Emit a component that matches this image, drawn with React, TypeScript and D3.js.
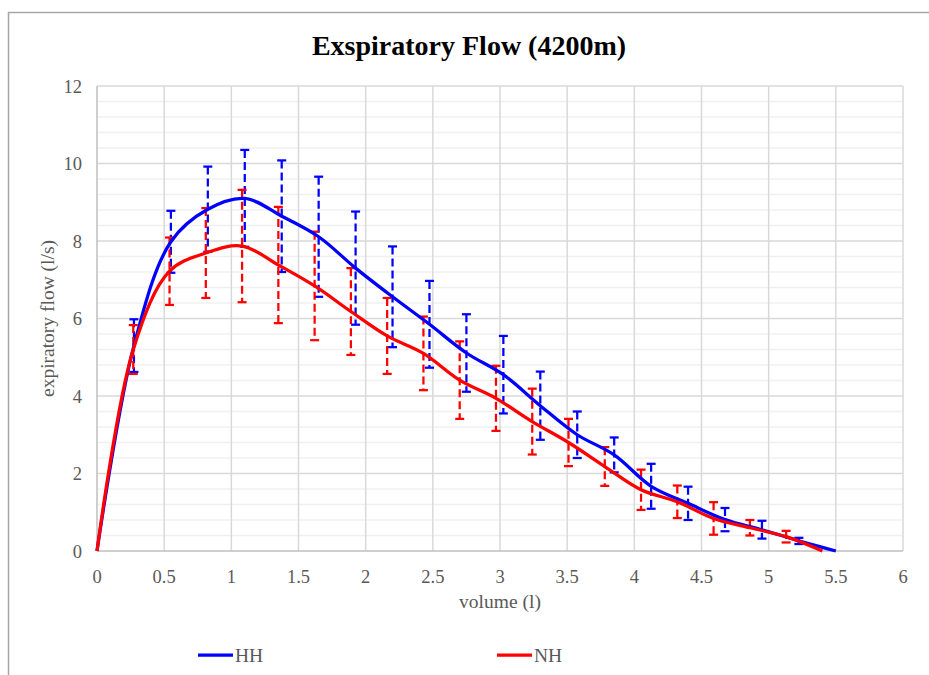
import React, { useEffect, useRef } from 'react';
import * as d3 from 'd3';

// HH series (blue), x step 0.275 l
const hhVolume = [0, 0.275, 0.55, 0.825, 1.1, 1.375, 1.65, 1.925, 2.2, 2.475, 2.75, 3.025, 3.3, 3.575, 3.85, 4.125, 4.4, 4.675, 4.95, 5.225, 5.5];
const hhFlow = [0, 5.3, 7.98, 8.82, 9.1, 8.64, 8.11, 7.3, 6.56, 5.85, 5.11, 4.55, 3.75, 3.0, 2.48, 1.67, 1.23, 0.81, 0.55, 0.26, 0];
const hhErr = [0, 0.68, 0.8, 1.1, 1.25, 1.44, 1.55, 1.46, 1.3, 1.12, 1.0, 1.0, 0.88, 0.6, 0.45, 0.58, 0.43, 0.3, 0.23, 0.08, 0];

// NH series (red), x step 0.27 l
const nhVolume = [0, 0.27, 0.54, 0.81, 1.08, 1.35, 1.62, 1.89, 2.16, 2.43, 2.7, 2.97, 3.24, 3.51, 3.78, 4.05, 4.32, 4.59, 4.86, 5.13, 5.4];
const nhFlow = [0, 5.2, 7.22, 7.69, 7.87, 7.38, 6.84, 6.18, 5.55, 5.1, 4.41, 3.94, 3.34, 2.8, 2.18, 1.58, 1.27, 0.84, 0.6, 0.37, 0];
const nhErr = [0, 0.63, 0.87, 1.16, 1.45, 1.5, 1.4, 1.12, 0.98, 0.95, 1.0, 0.84, 0.85, 0.61, 0.5, 0.52, 0.42, 0.42, 0.2, 0.15, 0];

const xTicks = [0, 0.5, 1, 1.5, 2, 2.5, 3, 3.5, 4, 4.5, 5, 5.5, 6];
const yTicks = [0, 2, 4, 6, 8, 10, 12];

const seriesNames = ['HH', 'NH'];
const seriesColors = ['#0000ff', '#ff0000'];

const FONT = '"Liberation Serif", "Times New Roman", serif';

const App = () => {
  const svgRef = useRef<SVGSVGElement>(null);
  const width = 929;
  const height = 675;
  const margin = { top: 86, right: 26, bottom: 124, left: 97 };

  useEffect(() => {
    const svg = d3.select(svgRef.current);
    svg.selectAll('*').remove();
    svg.attr('width', width).attr('height', height);

    const x = d3.scaleLinear().domain([0, 6]).range([margin.left, width - margin.right]);
    const y = d3.scaleLinear().domain([0, 12]).range([height - margin.bottom, margin.top]);

    // outer chart frame (only top/left visible)
    svg.append('path')
      .attr('d', `M8.5,${height} L8.5,12.5 L${width},12.5`)
      .attr('fill', 'none')
      .attr('stroke', '#a6a6a6')
      .attr('stroke-width', 1.5);

    // minor horizontal gridlines
    svg.append('g')
      .selectAll('line')
      .data(d3.range(0, 12.01, 0.4).filter(v => Math.abs(v / 2 - Math.round(v / 2)) > 0.01))
      .enter().append('line')
      .attr('x1', x(0)).attr('x2', x(6))
      .attr('y1', d => y(d)).attr('y2', d => y(d))
      .attr('stroke', '#f0f0f0')
      .attr('stroke-width', 1.5);

    // major gridlines
    svg.append('g')
      .selectAll('line')
      .data(yTicks.slice(1))
      .enter().append('line')
      .attr('x1', x(0)).attr('x2', x(6))
      .attr('y1', d => y(d)).attr('y2', d => y(d))
      .attr('stroke', '#d9d9d9')
      .attr('stroke-width', 1.5);

    svg.append('g')
      .selectAll('line')
      .data(xTicks.slice(1))
      .enter().append('line')
      .attr('x1', d => x(d)).attr('x2', d => x(d))
      .attr('y1', y(0)).attr('y2', y(12))
      .attr('stroke', '#d9d9d9')
      .attr('stroke-width', 1.5);

    // axis lines
    svg.append('line')
      .attr('x1', x(0)).attr('x2', x(6))
      .attr('y1', y(0)).attr('y2', y(0))
      .attr('stroke', '#bfbfbf').attr('stroke-width', 1.5);
    svg.append('line')
      .attr('x1', x(0)).attr('x2', x(0))
      .attr('y1', y(0)).attr('y2', y(12))
      .attr('stroke', '#bfbfbf').attr('stroke-width', 1.5);

    // tick labels
    svg.append('g')
      .selectAll('text')
      .data(xTicks)
      .enter().append('text')
      .attr('x', d => x(d))
      .attr('y', y(0) + 32)
      .attr('text-anchor', 'middle')
      .style('font-family', FONT)
      .style('font-size', '18.5px')
      .attr('fill', '#595959')
      .text(d => String(d));

    svg.append('g')
      .selectAll('text')
      .data(yTicks)
      .enter().append('text')
      .attr('x', x(0) - 15)
      .attr('y', d => y(d) + 6.5)
      .attr('text-anchor', 'end')
      .style('font-family', FONT)
      .style('font-size', '18.5px')
      .attr('fill', '#595959')
      .text(d => String(d));

    // axis titles
    svg.append('text')
      .attr('x', (x(0) + x(6)) / 2)
      .attr('y', 608)
      .attr('text-anchor', 'middle')
      .style('font-family', FONT)
      .style('font-size', '19.5px')
      .attr('fill', '#595959')
      .text('volume (l)');

    svg.append('text')
      .attr('transform', `translate(54,${(y(0) + y(12)) / 2}) rotate(-90)`)
      .attr('text-anchor', 'middle')
      .style('font-family', FONT)
      .style('font-size', '19.5px')
      .attr('fill', '#595959')
      .text('expiratory flow (l/s)');

    // title
    svg.append('text')
      .attr('x', 469)
      .attr('y', 55)
      .attr('text-anchor', 'middle')
      .style('font-family', FONT)
      .style('font-size', '28px')
      .style('font-weight', 'bold')
      .attr('fill', '#000000')
      .text('Exspiratory Flow (4200m)');

    const series = [
      { vol: hhVolume, flow: hhFlow, err: hhErr },
      { vol: nhVolume, flow: nhFlow, err: nhErr },
    ];

    const line = d3.line<[number, number]>()
      .x(d => x(d[0]))
      .y(d => y(d[1]))
      .curve(d3.curveCatmullRom.alpha(0.5));

    // error bars
    series.forEach((s, i) => {
      const pts = s.vol.map((v, j) => ({ v, f: s.flow[j], e: s.err[j] })).filter(p => p.e > 0);
      const g = svg.append('g');
      g.selectAll('.bar')
        .data(pts)
        .enter().append('line')
        .attr('x1', d => x(d.v)).attr('x2', d => x(d.v))
        .attr('y1', d => y(d.f + d.e)).attr('y2', d => y(d.f - d.e))
        .attr('stroke', seriesColors[i])
        .attr('stroke-width', 2.25)
        .attr('stroke-dasharray', '8,4');
      g.selectAll('.capTop')
        .data(pts)
        .enter().append('line')
        .attr('x1', d => x(d.v) - 4.5).attr('x2', d => x(d.v) + 4.5)
        .attr('y1', d => y(d.f + d.e)).attr('y2', d => y(d.f + d.e))
        .attr('stroke', seriesColors[i])
        .attr('stroke-width', 2.25);
      g.selectAll('.capBot')
        .data(pts)
        .enter().append('line')
        .attr('x1', d => x(d.v) - 4.5).attr('x2', d => x(d.v) + 4.5)
        .attr('y1', d => y(d.f - d.e)).attr('y2', d => y(d.f - d.e))
        .attr('stroke', seriesColors[i])
        .attr('stroke-width', 2.25);
    });

    // lines
    series.forEach((s, i) => {
      svg.append('path')
        .datum(s.vol.map((v, j) => [v, s.flow[j]] as [number, number]))
        .attr('d', line)
        .attr('fill', 'none')
        .attr('stroke', seriesColors[i])
        .attr('stroke-width', 3.25)
        .attr('stroke-linejoin', 'round');
    });

    // legend
    const legendX = [198, 497];
    seriesNames.forEach((name, i) => {
      svg.append('line')
        .attr('x1', legendX[i]).attr('x2', legendX[i] + 35)
        .attr('y1', 655).attr('y2', 655)
        .attr('stroke', seriesColors[i])
        .attr('stroke-width', 3.25);
      svg.append('text')
        .attr('x', legendX[i] + 37)
        .attr('y', 662)
        .style('font-family', FONT)
        .style('font-size', '19.5px')
        .attr('fill', '#595959')
        .text(name);
    });
  }, []);

  return (
    <div style={{ position: 'absolute', left: 0, top: 0, width: '100%', height: '100%', background: '#fff' }}>
      <svg ref={svgRef} style={{ display: 'block' }} />
    </div>
  );
};

export default App;
